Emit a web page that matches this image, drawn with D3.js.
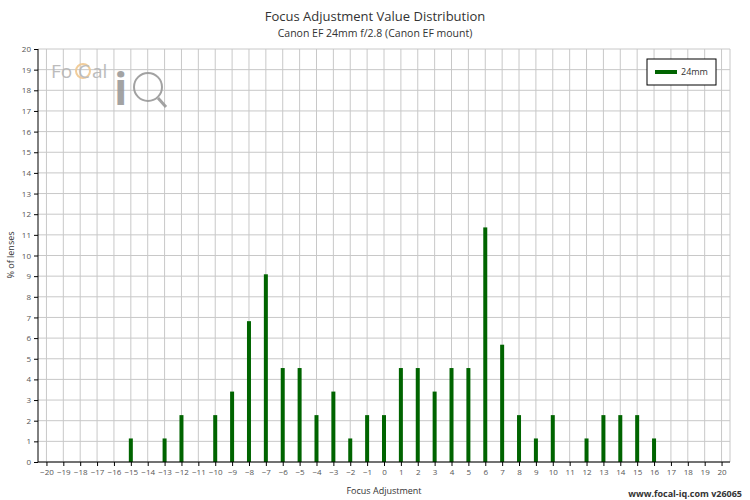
<!DOCTYPE html>
<html><head><meta charset="utf-8">
<script src="https://cdn.jsdelivr.net/npm/d3@7"></script>
<style>body{margin:0;background:#fff}text{font-family:"Open Sans",sans-serif}</style>
</head><body>
<svg id="c" width="750" height="500"></svg>
<script>
const adjustments = [-15,-13,-12,-10,-9,-8,-7,-6,-5,-4,-3,-2,-1,0,1,2,3,4,5,6,7,8,9,10,12,13,14,15,16];
const percents = [1.14,1.14,2.27,2.27,3.41,6.82,9.09,4.55,4.55,2.27,3.41,1.14,2.27,2.27,4.55,4.55,3.41,4.55,4.55,11.36,5.68,2.27,1.14,2.27,1.14,2.27,2.27,2.27,1.14];
const xTicks = d3.range(-20,21);
const yTicks = d3.range(0,21);
const seriesName = "24mm";

const svg = d3.select("#c");
const L=38,R=730,T=49,B=462;
const x = d3.scaleLinear().domain([-20.5,20.5]).range([L,R]);
const y = d3.scaleLinear().domain([0,20]).range([B,T]);

const g = svg.append("g");
g.selectAll(".vg").data(xTicks).join("line").attr("x1",d=>x(d)).attr("x2",d=>x(d)).attr("y1",T).attr("y2",B).attr("stroke","#c8c8c8").attr("stroke-width",1);
g.selectAll(".hg").data(yTicks).join("line").attr("x1",L).attr("x2",R).attr("y1",d=>y(d)).attr("y2",d=>y(d)).attr("stroke","#c8c8c8").attr("stroke-width",1);
g.append("line").attr("x1",R).attr("x2",R).attr("y1",T).attr("y2",B).attr("stroke","#c8c8c8");

// logo
const logo = svg.append("g").attr("opacity",0.9);
logo.append("text").attr("x",51).attr("y",78).attr("font-size",19).attr("fill","#b5b5b5").text("Fo");
logo.append("circle").attr("cx",83).attr("cy",71).attr("r",7).attr("fill","none").attr("stroke","#f0c890").attr("stroke-width",2);
logo.append("text").attr("x",78).attr("y",78).attr("font-size",19).attr("fill","#b5b5b5").text("C");
logo.append("text").attr("x",92).attr("y",78).attr("font-size",19).attr("fill","#b5b5b5").text("al");
logo.append("text").attr("x",114).attr("y",105).attr("font-size",44).attr("font-weight","bold").attr("fill","#9a9a9a").text("i");
logo.append("circle").attr("cx",148).attr("cy",87).attr("r",14).attr("fill","none").attr("stroke","#999").attr("stroke-width",2);
logo.append("line").attr("x1",158).attr("y1",98).attr("x2",166).attr("y2",107).attr("stroke","#999").attr("stroke-width",3);

const bw=4;
svg.selectAll(".bar").data(adjustments).join("rect")
 .attr("x",(d)=>x(d)-bw/2).attr("width",bw)
 .attr("y",(d,i)=>y(percents[i])).attr("height",(d,i)=>B-y(percents[i]))
 .attr("fill","#006400");

const xa = svg.append("g").attr("transform",`translate(0,${B})`).call(d3.axisBottom(x).tickValues(xTicks).tickSize(4));
const ya = svg.append("g").attr("transform",`translate(${L},0)`).call(d3.axisLeft(y).tickValues(yTicks).tickSize(4));
xa.select(".domain").attr("d",`M${L},0H${R}`);
ya.select(".domain").attr("d",`M0,${T}V${B}`);
[xa,ya].forEach(a=>{a.selectAll("text").attr("font-size",8).attr("fill","#555");a.selectAll("line,path").attr("stroke","#000")});

svg.append("text").attr("x",375).attr("y",21).attr("text-anchor","middle").attr("font-size",13).attr("fill","#333").text("Focus Adjustment Value Distribution");
svg.append("text").attr("x",375).attr("y",37).attr("text-anchor","middle").attr("font-size",10.5).attr("fill","#333").text("Canon EF 24mm f/2.8 (Canon EF mount)");
svg.append("text").attr("x",384).attr("y",494).attr("text-anchor","middle").attr("font-size",9).attr("fill","#333").text("Focus Adjustment");
svg.append("text").attr("transform","translate(14,255) rotate(-90)").attr("text-anchor","middle").attr("font-size",9).attr("fill","#333").text("% of lenses");
svg.append("text").attr("x",742).attr("y",497).attr("text-anchor","end").attr("font-size",9).attr("font-weight","bold").attr("fill","#333").text("www.focal-iq.com  v26065");

const lg = svg.append("g");
lg.append("rect").attr("x",647).attr("y",59).attr("width",69).attr("height",26).attr("fill","#fff").attr("stroke","#000");
lg.append("rect").attr("x",650).attr("y",62).attr("width",69).attr("height",26).attr("fill","none").attr("stroke","#ddd").attr("opacity",0);
lg.append("line").attr("x1",655).attr("x2",677).attr("y1",72).attr("y2",72).attr("stroke","#006400").attr("stroke-width",4);
lg.append("text").attr("x",681).attr("y",75).attr("font-size",9).attr("fill","#333").text(seriesName);
</script></body></html>
